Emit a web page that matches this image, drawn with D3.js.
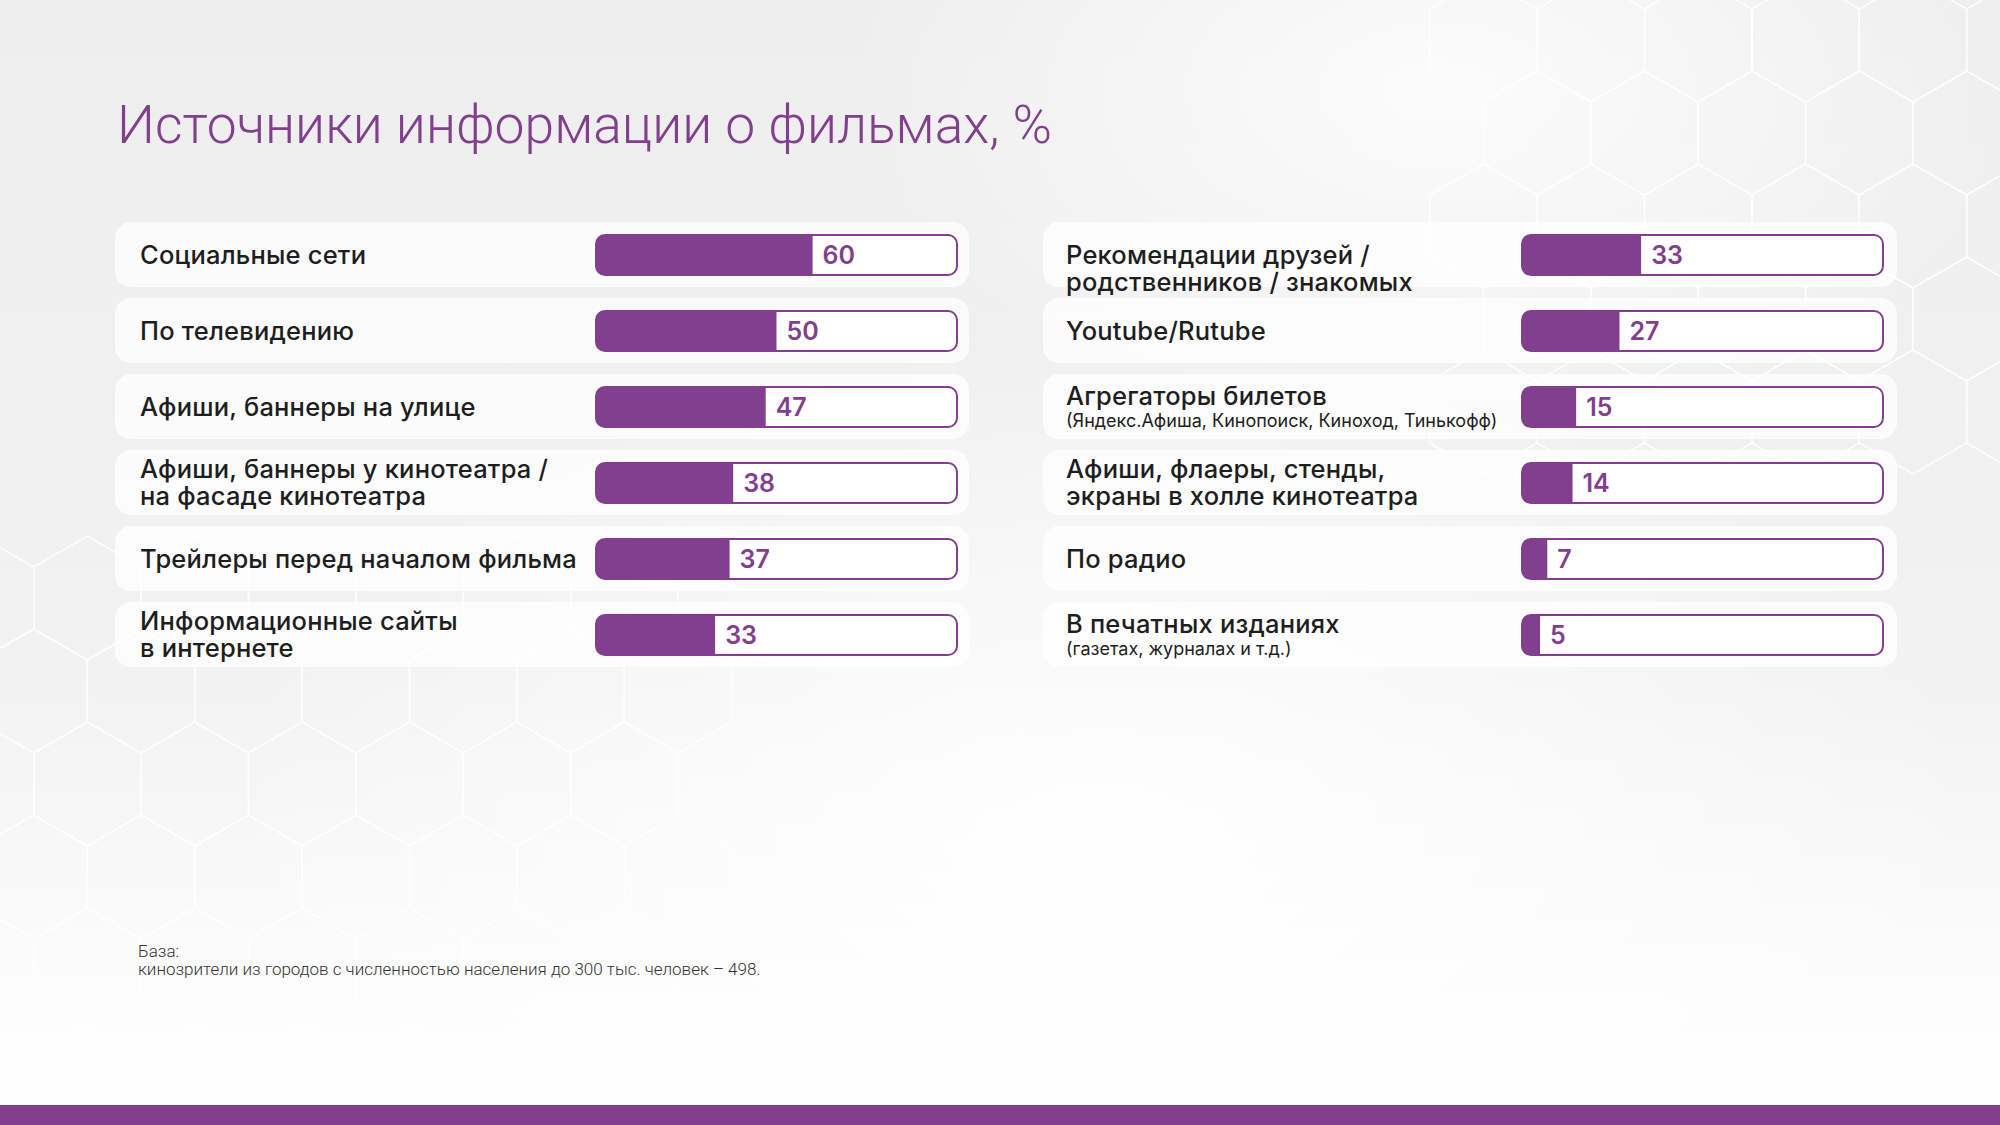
<!DOCTYPE html>
<html>
<head>
<meta charset="utf-8">
<script src="https://cdn.jsdelivr.net/npm/d3@7"></script>
<style>
  html, body { margin: 0; padding: 0; background: #fff; }
  svg { display: block; }
</style>
</head>
<body>
<div id="chart"></div>
<script>
// Data
var leftLabels = [
  ["Социальные сети"],
  ["По телевидению"],
  ["Афиши, баннеры на улице"],
  ["Афиши, баннеры у кинотеатра /", "на фасаде кинотеатра"],
  ["Трейлеры перед началом фильма"],
  ["Информационные сайты", "в интернете"]
];
var leftSubs = ["", "", "", "", "", ""];
var leftValues = [60, 50, 47, 38, 37, 33];

var rightLabels = [
  ["Рекомендации друзей /", "родственников / знакомых"],
  ["Youtube/Rutube"],
  ["Агрегаторы билетов"],
  ["Афиши, флаеры, стенды,", "экраны в холле кинотеатра"],
  ["По радио"],
  ["В печатных изданиях"]
];
var rightSubs = ["", "", "(Яндекс.Афиша, Кинопоиск, Киноход, Тинькофф)", "", "", "(газетах, журналах и т.д.)"];
var rightValues = [33, 27, 15, 14, 7, 5];

var titleText = "Источники информации о фильмах, %";
var baseNote = ["База:", "кинозрители из городов с численностью населения до 300 тыс. человек – 498."];

(function render() {
  var attrs = {
    width: 2000,
    height: 1125,
    purple: "#823f8e",
    textDark: "#1e1e1e",
    labelFont: "Inter, 'Open Sans', sans-serif",
    titleFont: "Roboto, 'Open Sans', sans-serif"
  };

  var svg = d3.select("#chart").append("svg")
    .attr("width", attrs.width)
    .attr("height", attrs.height);

  var defs = svg.append("defs");
  var bg = defs.append("linearGradient").attr("id", "bgGrad")
    .attr("x1", 0).attr("y1", 0).attr("x2", 0).attr("y2", 1);
  bg.append("stop").attr("offset", "0%").attr("stop-color", "#eeeeee");
  bg.append("stop").attr("offset", "60%").attr("stop-color", "#f2f2f2");
  bg.append("stop").attr("offset", "90%").attr("stop-color", "#fdfdfd");
  bg.append("stop").attr("offset", "100%").attr("stop-color", "#ffffff");

  var glow = defs.append("radialGradient").attr("id", "glow")
    .attr("cx", 0.55).attr("cy", 0.75).attr("r", 0.45);
  glow.append("stop").attr("offset", "0%").attr("stop-color", "#ffffff").attr("stop-opacity", 0.95);
  glow.append("stop").attr("offset", "100%").attr("stop-color", "#ffffff").attr("stop-opacity", 0);

  var glowTR = defs.append("radialGradient").attr("id", "glowTR")
    .attr("cx", 0.72).attr("cy", 0.08).attr("r", 0.3);
  glowTR.append("stop").attr("offset", "0%").attr("stop-color", "#ffffff").attr("stop-opacity", 0.8);
  glowTR.append("stop").attr("offset", "100%").attr("stop-color", "#ffffff").attr("stop-opacity", 0);

  svg.append("rect").attr("width", attrs.width).attr("height", attrs.height).attr("fill", "url(#bgGrad)");
  svg.append("rect").attr("width", attrs.width).attr("height", attrs.height).attr("fill", "url(#glow)");
  svg.append("rect").attr("width", attrs.width).attr("height", attrs.height).attr("fill", "url(#glowTR)");

  // faint hex network decoration
  var hexR = 62;
  var hexG = svg.append("g").attr("stroke", "#ffffff").attr("stroke-width", 1.5).attr("fill", "none").attr("opacity", 0.9);
  var hexPts = d3.range(6).map(function (k) {
    var a = Math.PI / 3 * k + Math.PI / 6;
    return [hexR * Math.cos(a), hexR * Math.sin(a)];
  });
  var hw = hexR * Math.sqrt(3);
  for (var row = 0; row < 14; row++) {
    for (var col = 0; col < 22; col++) {
      var cx = col * hw + (row % 2 ? hw / 2 : 0) - 20;
      var cy = row * hexR * 1.5 + 40;
      var inLeft = cx < 700 && cy > 520 && cy < 1000;
      var inTop = cx > 1450 && cy < 420;
      if (!(inLeft || inTop)) continue;
      hexG.append("path")
        .attr("d", "M" + hexPts.map(function (p) { return [p[0] + cx, p[1] + cy]; }).join("L") + "Z");
    }
  }

  // title
  svg.append("text")
    .attr("x", 117).attr("y", 143)
    .attr("font-family", attrs.titleFont)
    .attr("font-weight", 300)
    .attr("font-size", 54)
    .attr("fill", attrs.purple)
    .attr("textLength", 935)
    .attr("lengthAdjust", "spacingAndGlyphs")
    .text(titleText);

  var rowY = d3.scalePoint().domain(d3.range(6)).range([255, 635]);

  function drawPanel(cfg) {
    var x = d3.scaleLinear().domain([0, 100]).range([0, cfg.barW]);
    var items = cfg.values.map(function (v, i) {
      return { value: v, label: cfg.labels[i], sub: cfg.subs[i], i: i };
    });
    var g = svg.append("g");
    var rows = g.selectAll(".row").data(items).enter().append("g")
      .attr("class", "row")
      .attr("transform", function (d) { return "translate(0," + rowY(d.i) + ")"; });

    rows.append("rect")
      .attr("x", cfg.boxX).attr("y", -33)
      .attr("width", cfg.boxW).attr("height", 65)
      .attr("rx", 16)
      .attr("fill", "#ffffff").attr("fill-opacity", 0.75);

    // label text
    rows.each(function (d) {
      var r = d3.select(this);
      var lines = d.label;
      var shift = (cfg.labelShift && cfg.labelShift[d.i]) || 0;
      var t = r.append("text")
        .attr("font-family", attrs.labelFont)
        .attr("font-weight", 500)
        .attr("font-size", 25.5)
        .attr("letter-spacing", 0.2)
        .attr("fill", attrs.textDark);
      if (d.sub) {
        t.append("tspan").attr("x", cfg.labelX).attr("y", -2).text(lines[0]);
        r.append("text")
          .attr("x", cfg.labelX).attr("y", 20)
          .attr("font-family", attrs.labelFont)
          .attr("font-weight", 400)
          .attr("font-size", 18)
          .attr("fill", attrs.textDark)
          .text(d.sub);
      } else if (lines.length === 2) {
        t.append("tspan").attr("x", cfg.labelX).attr("y", -5 + shift).text(lines[0]);
        t.append("tspan").attr("x", cfg.labelX).attr("y", 22 + shift).text(lines[1]);
      } else {
        t.append("tspan").attr("x", cfg.labelX).attr("y", 9).text(lines[0]);
      }
    });

    // bar
    var clipId = function (d) { return "clip-" + cfg.key + "-" + d.i; };
    rows.append("clipPath").attr("id", clipId)
      .append("rect")
      .attr("x", cfg.barX).attr("y", -20)
      .attr("width", cfg.barW).attr("height", 40)
      .attr("rx", 9);
    rows.append("rect")
      .attr("x", cfg.barX).attr("y", -20)
      .attr("width", cfg.barW).attr("height", 40)
      .attr("rx", 9)
      .attr("fill", "#ffffff");
    rows.append("rect")
      .attr("clip-path", function (d) { return "url(#" + clipId(d) + ")"; })
      .attr("x", cfg.barX).attr("y", -20)
      .attr("width", function (d) { return x(d.value); })
      .attr("height", 40)
      .attr("fill", attrs.purple);
    rows.append("rect")
      .attr("x", cfg.barX).attr("y", -20)
      .attr("width", cfg.barW).attr("height", 40)
      .attr("rx", 9)
      .attr("fill", "none")
      .attr("stroke", attrs.purple)
      .attr("stroke-width", 2);

    rows.append("text")
      .attr("x", function (d) { return cfg.barX + x(d.value) + 10; })
      .attr("y", 9)
      .attr("font-family", attrs.labelFont)
      .attr("font-weight", 600)
      .attr("font-size", 25)
      .attr("fill", attrs.purple)
      .text(function (d) { return d.value; });
  }

  drawPanel({ key: "l", labels: leftLabels, subs: leftSubs, values: leftValues,
    boxX: 115, boxW: 854, labelX: 140, barX: 596, barW: 361 });
  drawPanel({ key: "r", labels: rightLabels, subs: rightSubs, values: rightValues,
    boxX: 1043, boxW: 854, labelX: 1066, barX: 1522, barW: 361,
    labelShift: [14, 0, 0, 0, 0, 0] });

  // base note
  svg.append("g").selectAll("text").data(baseNote).enter().append("text")
    .attr("x", 138)
    .attr("y", function (d, i) { return 957 + i * 18; })
    .attr("font-family", attrs.titleFont)
    .attr("font-weight", 300)
    .attr("font-size", 17)
    .attr("fill", "#333")
    .text(function (d) { return d; });

  // bottom band
  svg.append("rect").attr("x", 0).attr("y", 1105).attr("width", attrs.width).attr("height", 20)
    .attr("fill", attrs.purple);
})();
</script>
</body>
</html>
